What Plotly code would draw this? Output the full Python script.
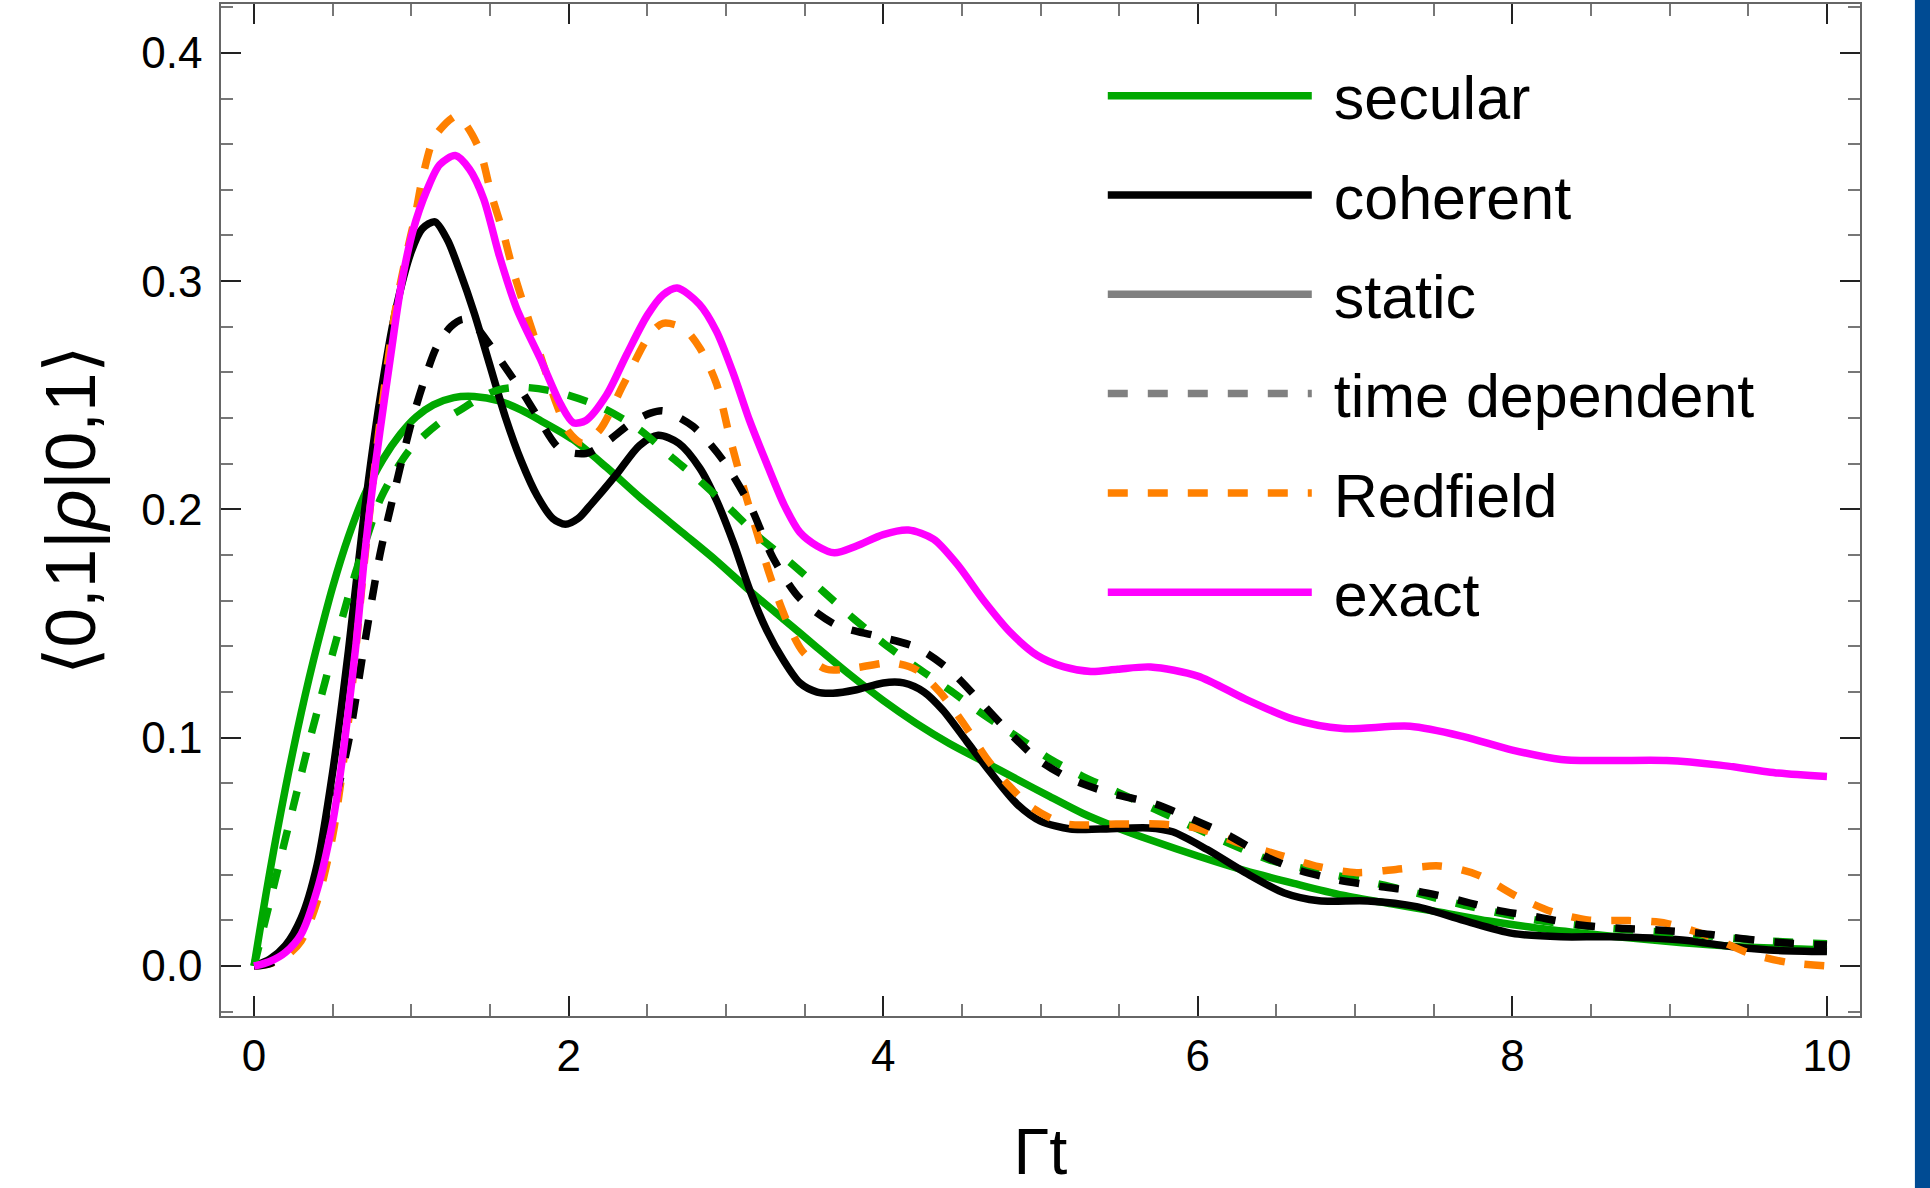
import plotly.graph_objects as go

# ---------------- data ----------------
t_exact = [0, 0.1, 0.2, 0.3, 0.4, 0.5, 0.55, 0.6, 0.65, 0.7, 0.75, 0.8, 0.87, 0.93, 1.01, 1.1, 1.18, 1.28,
           1.37, 1.46, 1.56, 1.67, 1.82, 1.95, 2.03, 2.11, 2.24, 2.37, 2.5, 2.6, 2.69, 2.83, 2.94, 3.05,
           3.15, 3.26, 3.37, 3.47, 3.58, 3.69, 3.83, 4.0, 4.16, 4.32, 4.47, 4.64, 4.81, 4.98, 5.15, 5.32,
           5.49, 5.7, 6.0, 6.3, 6.61, 6.92, 7.35, 7.69, 8.0, 8.31, 8.62, 8.98, 9.32, 9.69, 10.0]
v_exact = [0, 0.002, 0.006, 0.014, 0.033, 0.063, 0.085, 0.112, 0.142, 0.178, 0.208, 0.234, 0.268, 0.296,
           0.322, 0.340, 0.351, 0.355, 0.349, 0.336, 0.311, 0.288, 0.266, 0.246, 0.238, 0.239, 0.250, 0.268,
           0.285, 0.294, 0.297, 0.290, 0.278, 0.259, 0.239, 0.220, 0.202, 0.190, 0.184, 0.181, 0.184, 0.189,
           0.191, 0.187, 0.176, 0.160, 0.146, 0.136, 0.131, 0.129, 0.130, 0.131, 0.127, 0.117, 0.108, 0.104,
           0.105, 0.1005, 0.0946, 0.0905, 0.090, 0.090, 0.088, 0.0845, 0.083]

t_coh = [0, 0.1, 0.2, 0.3, 0.4, 0.5, 0.6, 0.7, 0.8, 0.9, 1.0, 1.07, 1.15, 1.23, 1.31, 1.4, 1.5, 1.6, 1.7, 1.8,
         1.9, 1.98, 2.06, 2.14, 2.3, 2.45, 2.57, 2.7, 2.835, 2.94, 3.05, 3.15, 3.26, 3.365, 3.47, 3.58, 3.68,
         3.83, 4.0, 4.13, 4.26, 4.38, 4.53, 4.68, 4.85, 5.0, 5.19, 5.38, 5.69, 5.84, 6.06, 6.3, 6.55, 6.77,
         7.08, 7.39, 7.69, 8.0, 8.31, 8.62, 9.08, 9.39, 9.63, 10.0]
v_coh = [0, 0.003, 0.009, 0.021, 0.044, 0.085, 0.138, 0.198, 0.248, 0.287, 0.313, 0.323, 0.326, 0.318, 0.304,
         0.286, 0.263, 0.240, 0.221, 0.206, 0.196, 0.1935, 0.196, 0.202, 0.215, 0.228, 0.2325, 0.229, 0.218,
         0.204, 0.185, 0.165, 0.147, 0.134, 0.124, 0.120, 0.1195, 0.121, 0.124, 0.124, 0.120, 0.112, 0.0985,
         0.085, 0.071, 0.0635, 0.060, 0.060, 0.0605, 0.0588, 0.051, 0.041, 0.032, 0.0286, 0.0285, 0.026,
         0.020, 0.0143, 0.0128, 0.0128, 0.0114, 0.0085, 0.007, 0.0063]

t_sec = [0, 0.05, 0.1, 0.15, 0.2, 0.25, 0.3, 0.35, 0.4, 0.5, 0.6, 0.7, 0.82, 0.93, 1.03, 1.14, 1.27, 1.4,
         1.56, 1.7, 1.82, 2.03, 2.24, 2.45, 2.73, 2.94, 3.15, 3.365, 3.58, 3.79, 4.0, 4.21, 4.42, 4.64, 4.85,
         5.06, 5.27, 5.49, 5.7, 6.0, 6.3, 6.61, 6.92, 7.23, 7.54, 7.85, 8.15, 8.46, 8.77, 9.08, 9.39, 10.0]
v_sec = [0, 0.021, 0.041, 0.060, 0.078, 0.095, 0.111, 0.126, 0.140, 0.166, 0.188, 0.206, 0.222, 0.233, 0.2405,
         0.2458, 0.2490, 0.2495, 0.2475, 0.2435, 0.239, 0.2305, 0.2185, 0.2055, 0.1895, 0.1775, 0.1645, 0.152,
         0.1395, 0.1275, 0.1163, 0.1063, 0.0975, 0.0895, 0.0818, 0.0742, 0.0668, 0.0605, 0.0552, 0.0482, 0.0418,
         0.0362, 0.0310, 0.0272, 0.0236, 0.0197, 0.0167, 0.0143, 0.0121, 0.0102, 0.0087, 0.007]

t_sec_td = [0, 0.05, 0.1, 0.15, 0.2, 0.25, 0.3, 0.35, 0.4, 0.5, 0.6, 0.7, 0.8, 0.9, 1.0, 1.18, 1.31, 1.44,
            1.56, 1.71, 1.92, 2.2, 2.45, 2.67, 2.81, 3.03, 3.2, 3.41, 3.62, 3.81, 4.0, 4.21, 4.42, 4.64, 4.85,
            5.06, 5.27, 5.49, 5.78, 6.15, 6.46, 6.77, 7.23, 7.69, 8.15, 8.62, 9.08, 9.54, 10.0]
v_sec_td = [0, 0.014, 0.028, 0.042, 0.056, 0.070, 0.084, 0.098, 0.111, 0.137, 0.162, 0.184, 0.204, 0.217,
            0.227, 0.238, 0.2435, 0.249, 0.2525, 0.2535, 0.2515, 0.245, 0.235, 0.222, 0.214, 0.200, 0.1885,
            0.1767, 0.164, 0.1523, 0.1415, 0.131, 0.121, 0.110, 0.1005, 0.0907, 0.083, 0.0762, 0.067, 0.0552,
            0.0464, 0.0413, 0.0347, 0.0267, 0.0201, 0.0165, 0.0143, 0.0114, 0.0097]

t_coh_td = [0, 0.1, 0.2, 0.3, 0.4, 0.5, 0.6, 0.7, 0.8, 0.9, 1.0, 1.08, 1.16, 1.25, 1.33, 1.41, 1.5, 1.6, 1.7,
            1.8, 1.945, 2.11, 2.25, 2.4, 2.52, 2.6, 2.79, 2.98, 3.15, 3.3, 3.47, 3.7, 3.96, 4.21, 4.42, 4.615,
            4.8, 4.98, 5.19, 5.44, 5.72, 5.93, 6.21, 6.43, 6.64, 6.89, 7.17, 7.41, 7.66, 7.9, 8.15, 8.43, 8.68,
            8.92, 9.2, 9.45, 9.72, 10.0]
v_coh_td = [0, 0.001, 0.006, 0.019, 0.040, 0.068, 0.098, 0.140, 0.180, 0.210, 0.238, 0.256, 0.271, 0.280,
            0.2833, 0.280, 0.272, 0.262, 0.252, 0.241, 0.2265, 0.2245, 0.230, 0.238, 0.2422, 0.2432, 0.2364,
            0.2217, 0.2022, 0.1787, 0.161, 0.1494, 0.1445, 0.1396, 0.1298, 0.116, 0.1024, 0.0907, 0.082,
            0.0758, 0.0712, 0.0654, 0.0567, 0.048, 0.042, 0.0377, 0.0347, 0.0326, 0.0289, 0.0245, 0.0216,
            0.018, 0.0165, 0.0158, 0.0143, 0.0121, 0.0102, 0.0092]

t_red = [0, 0.1, 0.2, 0.3, 0.4, 0.5, 0.6, 0.7, 0.8, 0.9, 0.97, 1.024, 1.076, 1.15, 1.29, 1.352, 1.437, 1.51,
         1.585, 1.648, 1.69, 1.818, 1.924, 2.0, 2.09, 2.2, 2.35, 2.52, 2.6, 2.73, 2.835, 2.94, 3.025, 3.11,
         3.195, 3.28, 3.386, 3.49, 3.64, 3.83, 4.05, 4.21, 4.36, 4.51, 4.66, 4.8, 4.95, 5.16, 5.48, 5.75, 6.0,
         6.27, 6.52, 6.77, 7.01, 7.26, 7.54, 7.78, 8.03, 8.25, 8.49, 8.74, 8.98, 9.26, 9.51, 9.75, 10.0]
v_red = [0, 0.001, 0.004, 0.011, 0.028, 0.057, 0.107, 0.176, 0.238, 0.288, 0.312, 0.3284, 0.3468, 0.3634,
         0.3725, 0.368, 0.357, 0.3376, 0.321, 0.3044, 0.295, 0.268, 0.246, 0.234, 0.229, 0.235, 0.255, 0.277,
         0.2815, 0.2794, 0.2706, 0.255, 0.2315, 0.210, 0.1904, 0.171, 0.1513, 0.1376, 0.130, 0.1307, 0.1328,
         0.1298, 0.120, 0.1063, 0.0907, 0.079, 0.0692, 0.0623, 0.0622, 0.0622, 0.0603, 0.0537, 0.0486,
         0.0435, 0.0409, 0.0423, 0.0438, 0.0399, 0.0304, 0.0238, 0.0201, 0.0199, 0.0187, 0.0128, 0.0055,
         0.0016, 0.0]

x_ticks = [0, 2, 4, 6, 8, 10]
y_ticks = [0.0, 0.1, 0.2, 0.3, 0.4]
y_ticklabels = ["0.0", "0.1", "0.2", "0.3", "0.4"]

# ---------------- styling ----------------
GREEN = "#00A800"
ORANGE = "#FF8000"
MAGENTA = "#FF00FF"
GRAY = "#808080"
LW = 7.5
DASH = "20px,20px"
FONT = "Liberation Sans, Arial, sans-serif"
PAD = "\u00a0"

fig = go.Figure()

def add(x, y, color, dash, name, show, rank):
    fig.add_trace(go.Scatter(
        x=x, y=y, mode="lines", name=PAD + name, showlegend=show, legendrank=rank,
        legendgroup=name,
        line=dict(color=color, width=LW, dash=dash, shape="spline", smoothing=0.8),
        hoverinfo="skip"))

add(t_sec, v_sec, GREEN, "solid", "secular", True, 1)
add(t_coh, v_coh, "black", "solid", "coherent", True, 2)
add(t_sec_td, v_sec_td, GREEN, DASH, "secular td", False, 10)
add(t_red, v_red, ORANGE, DASH, "Redfield", True, 5)
add(t_coh_td, v_coh_td, "black", DASH, "coherent td", False, 11)
add(t_exact, v_exact, MAGENTA, "solid", "exact", True, 6)
# style-only legend entries
add([None], [None], GRAY, "solid", "static", True, 3)
add([None], [None], GRAY, DASH, "time dependent", True, 4)

axis_common = dict(
    showline=True, linecolor="#666666", linewidth=1.5, mirror="ticks",
    ticks="inside", tickcolor="#222222", tickwidth=1.5,
    showgrid=False, zeroline=False, automargin=False,
    tickfont=dict(family=FONT, size=44, color="black"),
)

fig.update_xaxes(
    **axis_common,
    range=[-0.21, 10.21], tickmode="array", tickvals=x_ticks, ticktext=[str(v) for v in x_ticks],
    ticklen=20,
    minor=dict(dtick=0.5, tick0=0, ticks="inside", ticklen=12, tickcolor="#777777", tickwidth=1.5, showgrid=False),
    title=dict(text="Γt", font=dict(family=FONT, size=65, color="black"), standoff=78),
)
fig.update_yaxes(
    **axis_common,
    range=[-0.0219, 0.4214], tickmode="array", tickvals=y_ticks, ticktext=y_ticklabels,
    ticklen=20, ticklabelstandoff=8,
    minor=dict(dtick=0.02, tick0=0, ticks="inside", ticklen=12, tickcolor="#777777", tickwidth=1.5, showgrid=False),
    title=dict(text="⟨0,1|<i>ρ</i>|0,1⟩", font=dict(family=FONT, size=71, color="black"), standoff=22),
)

fig.update_layout(
    width=1930, height=1188,
    margin=dict(l=221, r=70, t=4, b=172),
    paper_bgcolor="white", plot_bgcolor="white",
    legend=dict(
        x=0.538, y=0.955, xanchor="left", yanchor="top",
        font=dict(family=FONT, size=61, color="black"),
        itemwidth=204, traceorder="grouped", tracegroupgap=17,
        bgcolor="rgba(0,0,0,0)",
    ),
    shapes=[dict(type="rect", xref="paper", yref="paper", x0=1.0335, x1=1.06, y0=-0.3, y1=1.1,
                 fillcolor="#004B93", line=dict(width=0), layer="above")],
)

fig.write_html("out.html",
               config={"displayModeBar": False},
               post_script="document.body.style.margin='0px';document.body.style.overflow='hidden';")
